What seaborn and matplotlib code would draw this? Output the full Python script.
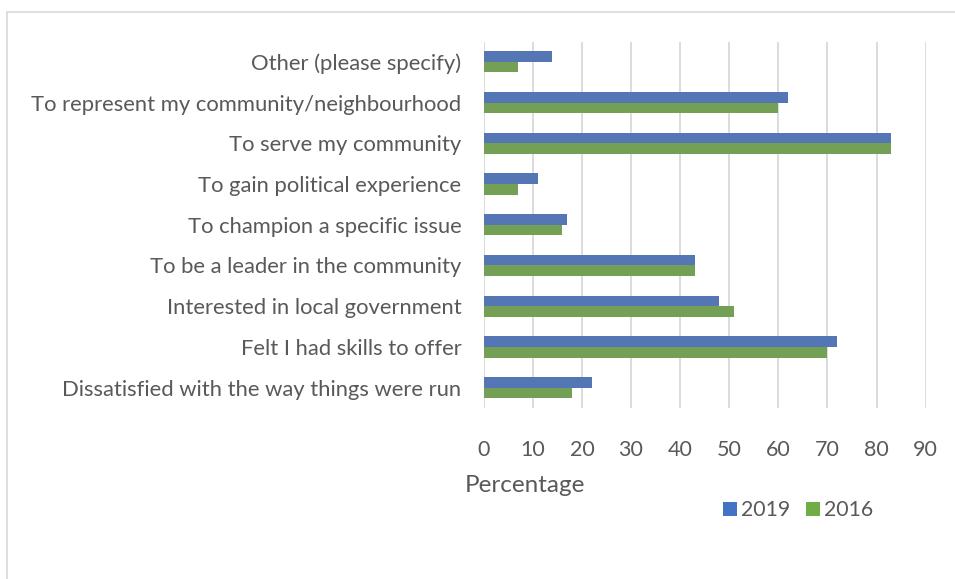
import matplotlib
matplotlib.use("Agg")
import matplotlib.pyplot as plt
import seaborn as sns
import pandas as pd
from matplotlib.lines import Line2D

reasons = [
    "Other (please specify)",
    "To represent my community/neighbourhood",
    "To serve my community",
    "To gain political experience",
    "To champion a specific issue",
    "To be a leader in the community",
    "Interested in local government",
    "Felt I had skills to offer",
    "Dissatisfied with the way things were run",
]
pct_2019 = [14, 62, 83, 11, 17, 43, 48, 72, 22]
pct_2016 = [7, 60, 83, 7, 16, 43, 51, 70, 18]
years = ["2019", "2016"]
x_ticks = [0, 10, 20, 30, 40, 50, 60, 70, 80, 90]

df = pd.DataFrame({
    "Reason": reasons * 2,
    "Percentage": pct_2019 + pct_2016,
    "Year": [years[0]] * len(reasons) + [years[1]] * len(reasons),
})

sns.set_theme(style="white")
plt.rcParams["font.family"] = ["Lato", "DejaVu Sans"]
text_col = "#595959"

fig = plt.figure(figsize=(9.55, 5.79), dpi=100)
ax = fig.add_axes([483.7 / 955, 1 - 408 / 579, 442 / 955, (408 - 41.5) / 579])

sns.barplot(
    data=df, y="Reason", x="Percentage", hue="Year", order=reasons,
    hue_order=years, palette={"2019": "#4472C4", "2016": "#70AD47"},
    orient="h", width=0.52, dodge=True, linewidth=0, ax=ax, legend=False,
)

ax.set_xlim(0, 90)
ax.set_xticks(x_ticks)
ax.xaxis.grid(True, color="#D9D9D9", linewidth=1.3)
ax.set_axisbelow(True)
for s in ax.spines.values():
    s.set_visible(False)
ax.tick_params(axis="y", length=0, pad=16, labelsize=15.8, labelcolor=text_col)
ax.tick_params(axis="x", length=0, pad=23, labelsize=15.5, labelcolor=text_col)
ax.set_ylabel("")
ax.set_xlabel("Percentage", fontsize=17.5, color=text_col, ha="left")
ax.xaxis.set_label_coords((465 - 483.7) / 442, -(485 - 408) / 366.5)
ax.xaxis.label.set_verticalalignment("center")

# legend below the axis
handles = [
    Line2D([], [], marker="s", linestyle="", markersize=10.5,
           markerfacecolor=c, markeredgewidth=0)
    for c in ["#4472C4", "#70AD47"]
]
fig.legend(
    handles, years, loc="center left", bbox_to_anchor=(712 / 955, 1 - 510 / 579),
    frameon=False, ncol=2, fontsize=15.3, labelcolor=text_col,
    handlelength=0.65, handletextpad=0.2, columnspacing=0.75, borderpad=0,
)

# chart border (top and left edges)
fig.add_artist(Line2D([6.5 / 955, 1], [1 - 11.5 / 579] * 2, color="#D9D9D9", linewidth=1.2))
fig.add_artist(Line2D([6.5 / 955] * 2, [0, 1 - 11.5 / 579], color="#D9D9D9", linewidth=1.2))

fig.savefig("out.png", dpi=100, facecolor="white")
